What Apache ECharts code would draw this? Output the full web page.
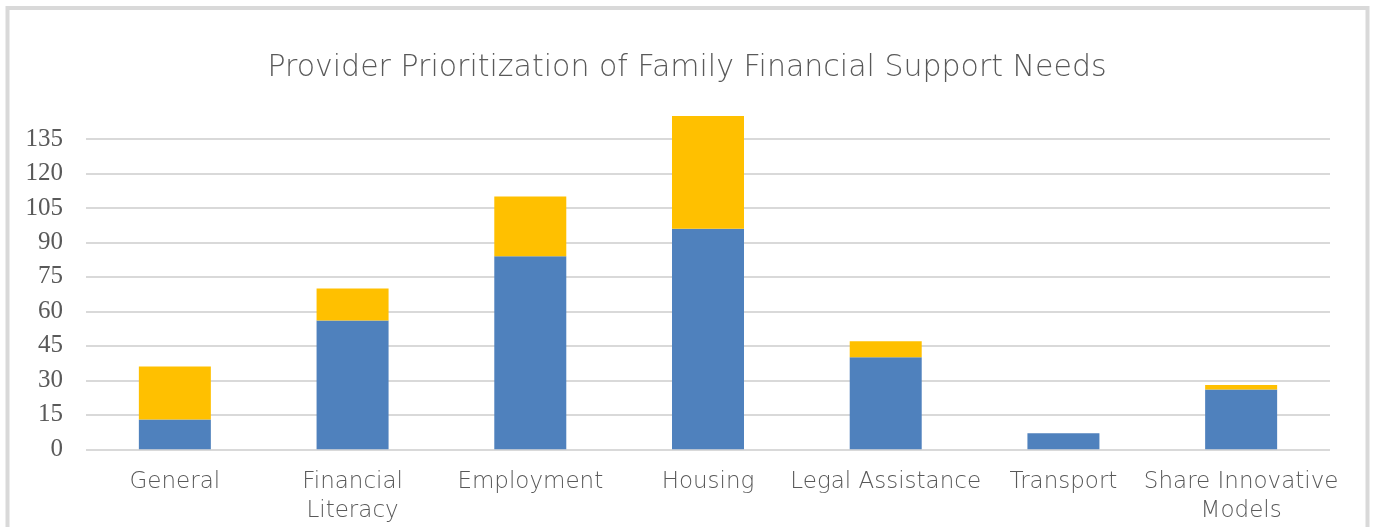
<!DOCTYPE html>
<html>
<head>
<meta charset="utf-8">
<script src="https://cdn.jsdelivr.net/npm/echarts@6/dist/echarts.min.js"></script>
<style>
html,body{margin:0;padding:0;background:#fff;}
#chart{width:1374px;height:527px;}
</style>
</head>
<body>
<div id="chart"></div>
<script>
const title = 'Provider Prioritization of Family Financial Support Needs';
const categories = ['General', 'Financial Literacy', 'Employment', 'Housing', 'Legal Assistance', 'Transport', 'Share Innovative Models'];
const categoryLabels = ['General', 'Financial\nLiteracy', 'Employment', 'Housing', 'Legal Assistance', 'Transport', 'Share Innovative\nModels'];
const seriesBlue = [13, 56, 84, 96, 40, 7, 26];
const seriesYellow = [23, 14, 26, 49, 7, 0, 2];
const yMin = 0, yMax = 150, yInterval = 15;

const gridColors = [];
for (let v = yMin; v <= yMax; v += yInterval) gridColors.push(v === yMax ? 'rgba(0,0,0,0)' : '#d9d9d9');

const chart = echarts.init(document.getElementById('chart'), null, {renderer: 'canvas'});
chart.setOption({
  backgroundColor: '#ffffff',
  animation: false,
  title: {
    text: title,
    left: 'center',
    top: 48,
    textStyle: {fontFamily: 'DejaVu Sans', fontWeight: 200, fontSize: 30, color: '#595959'}
  },
  graphic: [{
    type: 'rect',
    shape: {x: 7.5, y: 8, width: 1360, height: 540},
    style: {fill: 'none', stroke: '#d9d9d9', lineWidth: 4},
    silent: true
  }],
  grid: {left: 86, right: 44, top: 104.5, bottom: 77.7, containLabel: false},
  xAxis: {
    type: 'category',
    data: categories,
    axisLine: {show: false},
    axisTick: {show: false},
    axisLabel: {
      margin: 18,
      interval: 0,
      fontFamily: 'DejaVu Sans', fontWeight: 200, fontSize: 23, color: '#595959', lineHeight: 29,
      formatter: (v, i) => categoryLabels[i]
    }
  },
  yAxis: {
    type: 'value',
    min: yMin, max: yMax, interval: yInterval,
    axisLine: {show: false},
    axisTick: {show: false},
    splitLine: {lineStyle: {color: gridColors, width: 2}},
    axisLabel: {
      margin: 23,
      fontFamily: 'Liberation Serif', fontSize: 25, color: '#595959',
      showMaxLabel: false,
      formatter: v => (v === yMax ? '' : String(v))
    }
  },
  series: [
    {type: 'bar', stack: 'total', data: seriesBlue, barWidth: 72, itemStyle: {color: '#4f81bd'}},
    {type: 'bar', stack: 'total', data: seriesYellow, barWidth: 72, itemStyle: {color: '#ffc000'}}
  ]
});
</script>
</body>
</html>
